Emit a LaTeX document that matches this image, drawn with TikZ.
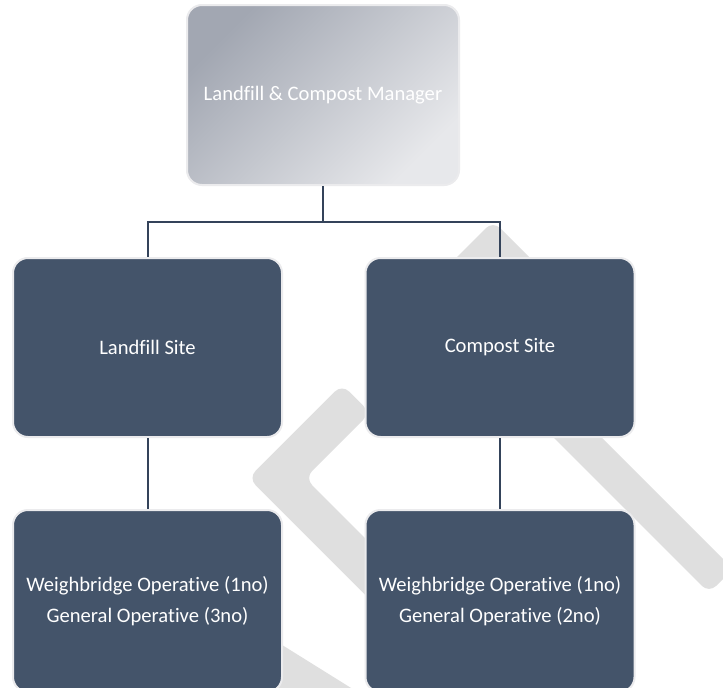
\documentclass[tikz,border=0pt]{standalone}
\usepackage{fontspec}
\setmainfont{Carlito}[Ligatures=NoCommon]
\definecolor{boxfill}{HTML}{44546A}
\definecolor{boxrim}{HTML}{EBEBED}
\definecolor{linkcol}{HTML}{34435A}
\definecolor{markgray}{HTML}{DFDFDF}
\definecolor{mgrtop}{HTML}{A2A7B2}
\definecolor{mgrbot}{HTML}{E7E8EB}

\begin{document}
\begin{tikzpicture}[x=1pt,y=-1pt,
  boxtext/.style={align=center, inner sep=0pt,
    font=\fontsize{20.6}{31.5}\selectfont},
  orgbox/.style={boxtext, rectangle, rounded corners=15pt, draw=boxrim,
    line width=2pt, fill=boxfill, text=white,
    minimum width=269pt},
  headbox/.style={boxtext, rectangle, rounded corners=15pt, draw=boxrim,
    line width=2pt, top color=mgrtop, bottom color=mgrbot, shading angle=45,
    text=white, minimum width=272pt, minimum height=180pt},
  link/.style={draw=linkcol, line width=2pt},
  wmark/.style={fill=markgray, rounded corners=10pt}
]
\useasboundingbox (0,0) rectangle (723,688);
\fill[white] (0,0) rectangle (723,688);

% light grey background mark behind the chart
\begin{scope}
  \clip (0,0) rectangle (723,688);
  \fill[wmark] (493,221) -- (545,273) -- (441,273) -- cycle;
  \fill[wmark] (248.4,478) -- (342,384.4) -- (370.3,412.7) -- (305,478)
     -- (505,678) -- (476.7,706.3) -- cycle;
  \fill[markgray] (250,625) -- (380,706) -- (250,706) -- cycle;
  \fill[wmark] (450,334) -- (709,593) -- (733,569) -- (474,310) -- cycle;
\end{scope}

% boxes
\node[headbox] (mgr) at (323,95) {Landfill \& Compost Manager};
\node[orgbox, minimum height=179pt] (land) at (147.5,347.5) {Landfill Site};
\node[orgbox, minimum height=179pt] (comp) at (500,347.5) {Compost Site\vphantom{L}};
\node[orgbox, minimum height=182pt] (lops) at (147.5,601)
  {Weighbridge Operative (1no)\\General Operative (3no)};
\node[orgbox, minimum height=182pt] (cops) at (500,601)
  {Weighbridge Operative (1no)\\General Operative (2no)};

% connectors
\draw[link] (mgr.south) -- ++(0,36) -| (land.north);
\draw[link] (mgr.south) -- ++(0,36) -| (comp.north);
\draw[link] (land.south) -- (lops.north);
\draw[link] (comp.south) -- (cops.north);
\end{tikzpicture}
\end{document}
